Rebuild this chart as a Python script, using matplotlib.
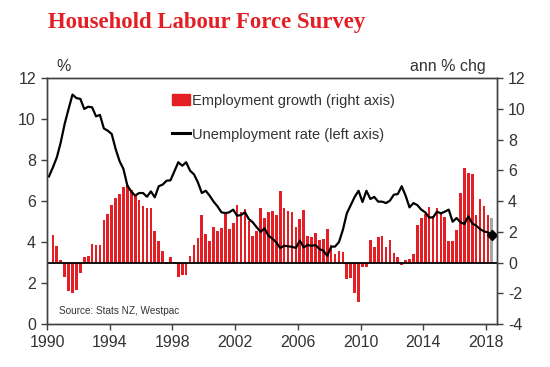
import numpy as np
import matplotlib
matplotlib.use('Agg')
import matplotlib.pyplot as plt
from matplotlib.patches import Patch
from matplotlib.lines import Line2D

plt.rcParams['font.family'] = ['Liberation Sans', 'DejaVu Sans']
plt.rcParams['axes.unicode_minus'] = False

# quarterly data, March 1990 quarter to June 2018 quarter
first_year = 1990
emp_growth = [-0.05, 1.82, 1.06, 0.15, -0.93, -1.84, -1.95, -1.8, -0.67, 0.37,
              0.43, 1.21, 1.13, 1.13, 2.79, 3.14, 3.72, 4.18, 4.48, 4.91,
              5.02, 4.74, 4.42, 4.07, 3.66, 3.57, 3.55, 2.08, 1.39, 0.74,
              -0.1, 0.39, 0.06, -0.97, -0.78, -0.84, 0.45, 1.13, 1.62, 3.07,
              1.86, 1.41, 2.34, 2.06, 2.25, 3.18, 2.19, 2.6, 3.77, 3.29,
              3.46, 2.71, 1.75, 2.06, 3.57, 2.92, 3.29, 3.33, 3.07, 4.63,
              3.57, 3.33, 3.29, 2.32, 2.86, 3.4, 1.71, 1.67, 1.95, 1.45,
              1.52, 2.21, 1.13, 0.58, 0.74, 0.69, -1.1, -1.0, -2.01, -2.55,
              -0.28, -0.28, 1.49, 1.0, 1.67, 1.75, 1.02, 1.45, 0.65, 0.39,
              -0.17, 0.17, 0.26, 0.58, 2.42, 2.92, 3.18, 3.61, 3.01, 3.57,
              3.29, 2.97, 1.43, 1.39, 2.1, 4.52, 6.15, 5.82, 5.74, 3.12,
              4.16, 3.66, 3.12, 2.92]
unemp_rate = [7.2, 7.64, 8.13, 8.86, 9.76, 10.49, 11.19, 11.02, 10.98, 10.49,
              10.6, 10.57, 10.13, 10.2, 9.54, 9.43, 9.27, 8.54, 7.95, 7.56,
              6.75, 6.46, 6.26, 6.39, 6.39, 6.21, 6.47, 6.18, 6.72, 6.8,
              6.99, 7.01, 7.45, 7.89, 7.72, 7.89, 7.48, 7.3, 6.91, 6.39,
              6.5, 6.26, 5.97, 5.74, 5.45, 5.41, 5.45, 5.58, 5.28, 5.32,
              5.45, 5.12, 4.96, 4.72, 4.5, 4.67, 4.31, 4.17, 3.98, 3.71,
              3.82, 3.79, 3.77, 3.71, 4.07, 3.74, 3.85, 3.82, 3.85, 3.66,
              3.58, 3.33, 3.77, 3.78, 4.0, 4.6, 5.4, 5.8, 6.2, 6.5,
              5.95, 6.5, 6.1, 6.2, 5.97, 5.97, 5.9, 6.02, 6.31, 6.34,
              6.72, 6.26, 5.69, 5.9, 5.8, 5.58, 5.45, 5.2, 5.2, 5.48,
              5.4, 5.48, 5.58, 4.99, 5.17, 4.96, 4.88, 5.25, 4.91, 4.8,
              4.63, 4.52, 4.47, 4.36]
year_ticks = [1990, 1994, 1998, 2002, 2006, 2010, 2014, 2018]

x = first_year + 0.125 + 0.25 * np.arange(len(emp_growth))

red = '#e31e24'
txt = '#333333'
bar_colors = [red] * (len(emp_growth) - 1) + ['#a6a6a6']

fig = plt.figure(figsize=(5.5, 3.67), dpi=100)
ax = fig.add_axes([0.0855, 0.117, 0.818, 0.6705])
ax2 = ax.twinx()
ax.set_zorder(ax2.get_zorder() + 1)
ax.patch.set_visible(False)

ax2.bar(x, emp_growth, width=0.17, color=bar_colors, edgecolor='none')
ax2.axhline(0, color='black', lw=1.3)
ax.plot(x, unemp_rate, color='black', lw=1.6)
ax.plot(x[-1], unemp_rate[-1], marker='D', color='black', ms=5)

ax.set_xlim(1990, 2018.7)
ax.set_ylim(0, 12)
ax2.set_ylim(-4, 12)
ax.set_yticks(range(0, 13, 2))
ax2.set_yticks(range(-4, 13, 2))
ax.set_xticks(year_ticks)

for a in (ax, ax2):
    a.tick_params(labelsize=11.5, labelcolor=txt, color='#404040',
                  direction='out', length=4.5, width=1)
    for s in a.spines.values():
        s.set_color('#404040')
        s.set_linewidth(1)

ax.text(0.02, 1.015, '%', transform=ax.transAxes, fontsize=11.5,
        color=txt, ha='left', va='bottom')
ax.text(0.975, 1.015, 'ann % chg', transform=ax.transAxes, fontsize=11.5,
        color=txt, ha='right', va='bottom')
ax.text(0.026, 0.052, 'Source: Stats NZ, Westpac', transform=ax.transAxes,
        fontsize=7.2, color=txt, ha='left', va='center')

handles = [Patch(color=red), Line2D([0], [0], color='black', lw=2.2)]
labels = ['Employment growth (right axis)', 'Unemployment rate (left axis)']
leg = ax.legend(handles, labels, loc='upper left', bbox_to_anchor=(0.278, 0.935),
                frameon=False, fontsize=10.5, handlelength=1.2, handleheight=0.8,
                handletextpad=0.15, labelspacing=1.35, borderpad=0, borderaxespad=0)
for t in leg.get_texts():
    t.set_color(txt)

fig.text(48 / 550, 1 - 27.6 / 367, 'Household Labour Force Survey',
         family='Liberation Serif', weight='bold', fontsize=16.4, color=red,
         ha='left', va='baseline')

fig.savefig('out.png', dpi=100)
